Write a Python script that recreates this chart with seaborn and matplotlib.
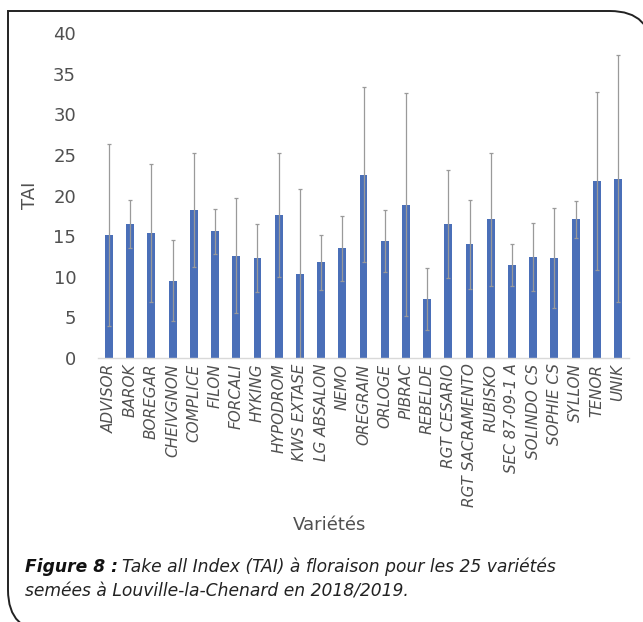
import matplotlib
matplotlib.use("Agg")
import matplotlib.pyplot as plt
import seaborn as sns
import numpy as np
import pandas as pd
from matplotlib.path import Path
from matplotlib.patches import PathPatch

varieties = ["ADVISOR", "BAROK", "BOREGAR", "CHEIVGNON", "COMPLICE", "FILON", "FORCALI",
             "HYKING", "HYPODROM", "KWS EXTASE", "LG ABSALON", "NEMO", "OREGRAIN", "ORLOGE",
             "PIBRAC", "REBELDE", "RGT CESARIO", "RGT SACRAMENTO", "RUBISKO", "SEC 87-09-1 A",
             "SOLINDO CS", "SOPHIE CS", "SYLLON", "TENOR", "UNIK"]
tai = [15.2, 16.5, 15.35, 9.5, 18.2, 15.6, 12.6, 12.3, 17.6, 10.4, 11.8, 13.5, 22.6, 14.4,
       18.9, 7.3, 16.5, 14.0, 17.1, 11.5, 12.4, 12.3, 17.1, 21.8, 22.1]
err = [11.2, 3.0, 8.5, 5.0, 7.0, 2.8, 7.1, 4.2, 7.6, 10.4, 3.4, 4.0, 10.8, 3.8,
       13.7, 3.8, 6.6, 5.5, 8.2, 2.6, 4.2, 6.2, 2.3, 11.0, 15.2]
yticks = [0, 5, 10, 15, 20, 25, 30, 35, 40]

df = pd.DataFrame({"Variété": varieties, "TAI": tai, "err": err})

sns.set_theme(style="white")
plt.rcParams["font.family"] = ["DejaVu Sans"]

W, H = 643, 622
TXT = "#505050"
fig = plt.figure(figsize=(W / 100, H / 100), dpi=100)
ax = fig.add_axes([98.4 / W, 1 - 358 / H, (628.6 - 98.4) / W, (358 - 33.3) / H])

sns.barplot(data=df, x="Variété", y="TAI", color="#4a6fb8", width=0.37, ax=ax,
            errorbar=None, saturation=1, linewidth=0)
ax.errorbar(np.arange(len(varieties)), df["TAI"], yerr=df["err"], fmt="none",
            ecolor="#9a9a9a", elinewidth=0.9, capsize=1.6, capthick=0.9)

ax.set_ylim(0, 40)
ax.set_xlim(-0.5, len(varieties) - 0.5)
ax.set_yticks(yticks)
ax.set_yticklabels([str(v) for v in yticks], fontsize=13, color=TXT)
ax.set_xticks(np.arange(len(varieties)))
ax.set_xticklabels(varieties, rotation=90, fontstyle="italic", fontsize=11, color=TXT)
ax.tick_params(axis="y", length=0, pad=16)
ax.tick_params(axis="x", length=0, pad=4)
for s in ["top", "right", "left"]:
    ax.spines[s].set_visible(False)
ax.spines["bottom"].set_color("#d9d9d9")
ax.spines["bottom"].set_linewidth(1.0)
ax.set_ylabel("TAI", fontsize=13, color=TXT, labelpad=10)
ax.set_xlabel("")
fig.text(330 / W, 1 - 525 / H, "Variétés", ha="center", va="center", fontsize=13, color=TXT)

# caption
FS = 12.3
t1 = fig.text(25 / W, 1 - 567 / H, "Figure 8 :", fontsize=FS, fontstyle="italic",
              fontweight="bold", va="center", ha="left", color="#111111")
fig.canvas.draw()
bb = t1.get_window_extent()
fig.text((bb.x1 + 4) / W, 1 - 567 / H, "Take all Index (TAI) à floraison pour les 25 variétés",
         fontsize=FS, fontstyle="italic", va="center", ha="left", color="#222222")
fig.text(25 / W, 1 - 592 / H, "semées à Louville-la-Chenard en 2018/2019.",
         fontsize=FS, fontstyle="italic", va="center", ha="left", color="#222222")

# border: square top-left, rounded top-right and bottom-left
r = 42
L, T, R, B = 8, 11, 652, 632
pts = [(R, B), (R, T + r), (R, T), (R - r, T), (L, T), (L, B - r), (L, B), (L + r, B)]
codes = [Path.MOVETO, Path.LINETO, Path.CURVE3, Path.CURVE3, Path.LINETO, Path.LINETO,
         Path.CURVE3, Path.CURVE3]
pts_f = [(x / W, 1 - y / H) for x, y in pts]
fig.add_artist(PathPatch(Path(pts_f, codes), transform=fig.transFigure, fill=False,
                         edgecolor="#222222", linewidth=1.4, clip_on=False))

fig.savefig("out.png", dpi=100)
